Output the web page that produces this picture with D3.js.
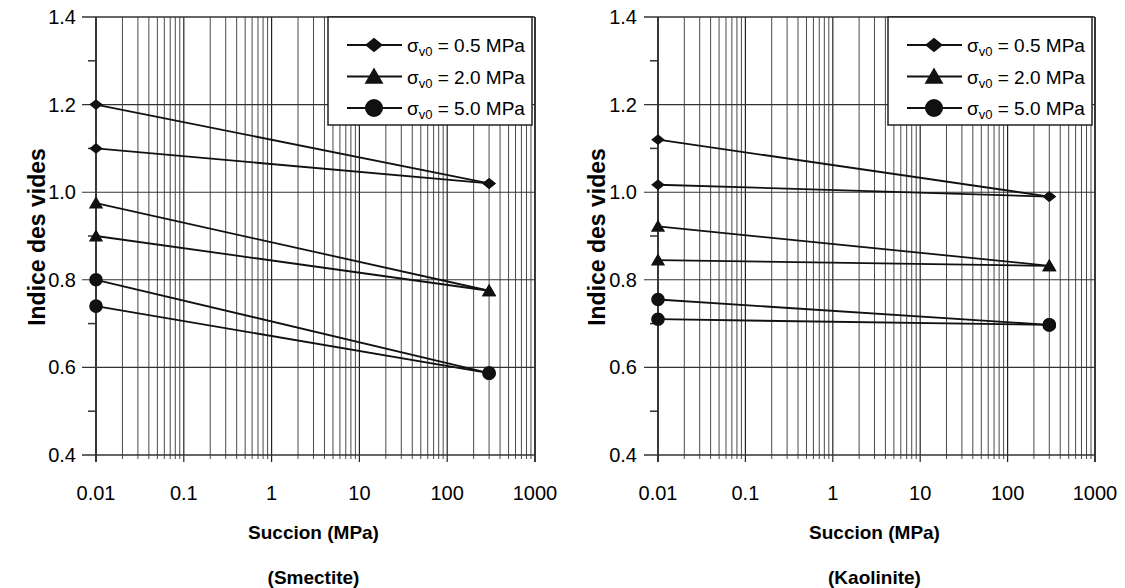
<!DOCTYPE html>
<html><head><meta charset="utf-8">
<script src="https://cdn.jsdelivr.net/npm/d3@7"></script>
<style>body{margin:0;background:#fff}svg{display:block;font-family:"Liberation Sans",Arial,sans-serif}</style>
</head><body><svg id="c" width="1125" height="588"></svg>
<script>
// ---- data ----
const suction = [0.01, 300];
const xTicks = [0.01, 0.1, 1, 10, 100, 1000];
const xTickLabels = ["0.01", "0.1", "1", "10", "100", "1000"];
const yTicks = [0.4, 0.6, 0.8, 1.0, 1.2, 1.4];
const yTickLabels = ["0.4", "0.6", "0.8", "1.0", "1.2", "1.4"];
const seriesNames = ["0.5", "2.0", "5.0"];
const seriesSymbols = ["diamond", "triangle", "circle"];
// Smectite: two initial states per stress, converging at 300 MPa
const smectite05 = [[1.20, 1.02], [1.10, 1.02]];
const smectite20 = [[0.975, 0.775], [0.90, 0.775]];
const smectite50 = [[0.80, 0.587], [0.74, 0.587]];
// Kaolinite
const kaolinite05 = [[1.12, 0.99], [1.017, 0.99]];
const kaolinite20 = [[0.922, 0.832], [0.845, 0.832]];
const kaolinite50 = [[0.755, 0.697], [0.71, 0.697]];

const panels = [
  {title: "(Smectite)", groups: [smectite05, smectite20, smectite50], x0: 96, x1: 535, legX: 328, ylabX: 45, ytickX: 76},
  {title: "(Kaolinite)", groups: [kaolinite05, kaolinite20, kaolinite50], x0: 658, x1: 1095, legX: 888, ylabX: 605, ytickX: 637}
];

const svg = d3.select("#c");
const yTop = 17, yBot = 455;

function sym(type, s) {
  if (type === "diamond") return `M0,${-s * 0.8}L${s},0L0,${s * 0.8}L${-s},0Z`;
  if (type === "triangle") return `M0,${-s * 1.0}L${s * 1.05},${s * 0.8}L${-s * 1.05},${s * 0.8}Z`;
  return d3.symbol().type(d3.symbolCircle).size(Math.PI * s * s)();
}

panels.forEach(p => {
  const x = d3.scaleLog().domain([0.01, 1000]).range([p.x0, p.x1]);
  const y = d3.scaleLinear().domain([0.4, 1.4]).range([yBot, yTop]);
  const g = svg.append("g");

  // vertical log grid (minor)
  const minor = [];
  for (let e = -2; e < 3; e++) for (let m = 2; m <= 9; m++) minor.push(m * Math.pow(10, e));
  g.selectAll(".vm").data(minor).join("line")
    .attr("x1", d => x(d)).attr("x2", d => x(d)).attr("y1", yTop).attr("y2", yBot + 4)
    .attr("stroke", "#4a4a4a").attr("stroke-width", 1);
  // vertical majors
  g.selectAll(".vM").data(xTicks).join("line")
    .attr("x1", d => x(d)).attr("x2", d => x(d)).attr("y1", yTop).attr("y2", yBot + 7)
    .attr("stroke", "#222").attr("stroke-width", d => (d === 0.01 || d === 1000) ? 1.8 : 1.2);
  // horizontal majors
  g.selectAll(".hM").data(yTicks).join("line")
    .attr("x1", p.x0 - 14).attr("x2", p.x1).attr("y1", d => y(d)).attr("y2", d => y(d))
    .attr("stroke", "#333").attr("stroke-width", d => (d === 0.4 || d === 1.4) ? 1.6 : 1.1);
  // minor y ticks
  g.selectAll(".ym").data([0.5, 0.7, 0.9, 1.1, 1.3]).join("line")
    .attr("x1", p.x0 - 8).attr("x2", p.x0).attr("y1", d => y(d)).attr("y2", d => y(d))
    .attr("stroke", "#333").attr("stroke-width", 1.5);

  // tick labels
  g.selectAll(".xl").data(xTicks).join("text")
    .attr("x", d => x(d)).attr("y", yBot + 45).attr("text-anchor", "middle")
    .attr("font-size", 20).text((d, i) => xTickLabels[i]);
  g.selectAll(".yl").data(yTicks).join("text")
    .attr("x", p.ytickX).attr("y", d => y(d) + 7).attr("text-anchor", "end")
    .attr("font-size", 20).text((d, i) => yTickLabels[i]);

  // axis titles
  const cx = (p.x0 + p.x1) / 2 - 2;
  g.append("text").attr("x", cx).attr("y", 539).attr("text-anchor", "middle")
    .attr("font-size", 19).attr("font-weight", "bold").text("Succion (MPa)");
  g.append("text").attr("x", cx).attr("y", 584).attr("text-anchor", "middle")
    .attr("font-size", 19).attr("font-weight", "bold").text(p.title);
  g.append("text").attr("transform", `translate(${p.ylabX},${237}) rotate(-90)`)
    .attr("text-anchor", "middle").attr("font-size", 23).attr("font-weight", "bold").text("Indice des vides");

  // data lines and markers
  p.groups.forEach((grp, si) => {
    grp.forEach(vals => {
      const pts = suction.map((s, i) => [x(s), y(vals[i])]);
      g.append("path").attr("d", d3.line()(pts)).attr("fill", "none")
        .attr("stroke", "#111").attr("stroke-width", 1.8);
      pts.forEach(pt => {
        g.append("path").attr("d", sym(seriesSymbols[si], 6.8))
          .attr("transform", `translate(${pt[0]},${pt[1]})`).attr("fill", "#111");
      });
    });
  });

  // legend
  const lg = g.append("g");
  lg.append("rect").attr("x", p.legX).attr("y", yTop).attr("width", p.x1 - 3 - p.legX).attr("height", 108)
    .attr("fill", "#fff").attr("stroke", "#222").attr("stroke-width", 1.5);
  seriesNames.forEach((n, i) => {
    const ly = 45 + i * 31.5;
    lg.append("line").attr("x1", p.legX + 19).attr("x2", p.legX + 74).attr("y1", ly).attr("y2", ly)
      .attr("stroke", "#111").attr("stroke-width", 1.8);
    lg.append("path").attr("d", sym(seriesSymbols[i], 9))
      .attr("transform", `translate(${p.legX + 46},${ly})`).attr("fill", "#111");
    const t = lg.append("text").attr("x", p.legX + 79).attr("y", ly + 7).attr("font-size", 19);
    t.append("tspan").text("σ");
    t.append("tspan").attr("font-size", 13).attr("dy", 4).text("v0");
    t.append("tspan").attr("dy", -4).text(" = " + n + " MPa");
  });
});
</script></body></html>
